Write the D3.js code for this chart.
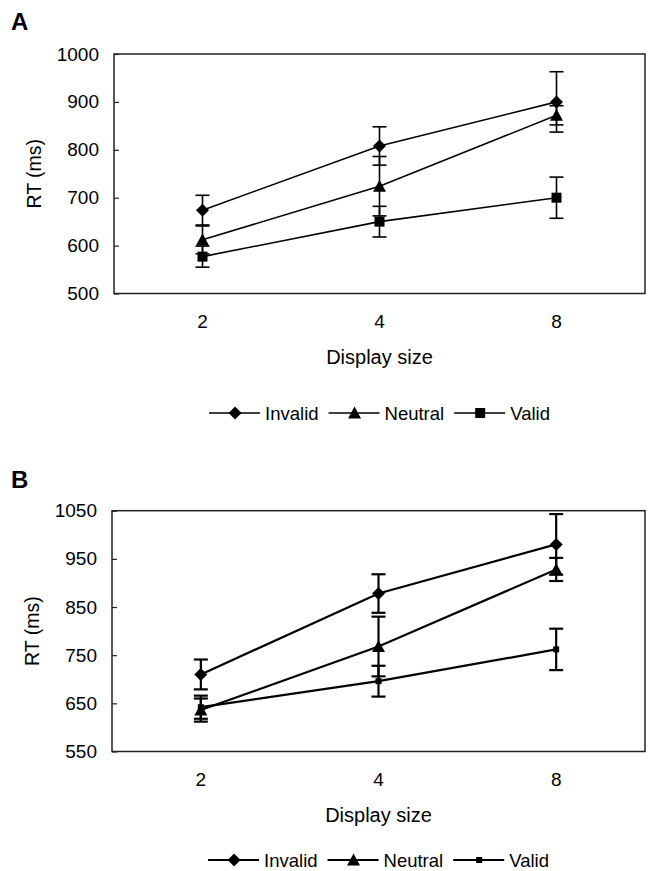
<!DOCTYPE html>
<html>
<head>
<meta charset="utf-8">
<script src="https://cdn.jsdelivr.net/npm/d3@7"></script>
<style>
  html, body { margin: 0; padding: 0; background: #fff; }
  svg { display: block; }
  text { font-family: "Liberation Sans", Arial, sans-serif; fill: #000; }
</style>
</head>
<body>
<svg id="chart" width="649" height="871"></svg>
<script>
// ---------------- data ----------------
const categories = ["2", "4", "8"];
const seriesNames = ["Invalid", "Neutral", "Valid"];

// Panel A
const invalidA = [674, 808, 900];
const invalidErrA = [31, 40, 63];
const neutralA = [612, 724, 872];
const neutralErrA = [29, 62, 20];
const validA = [577, 650, 700];
const validErrA = [22, 32, 43];
const yTicksA = [500, 600, 700, 800, 900, 1000];

// Panel B
const invalidB = [710, 878, 980];
const invalidErrB = [31, 40, 63];
const neutralB = [636, 768, 928];
const neutralErrB = [24, 62, 24];
const validB = [642, 696, 762];
const validErrB = [24, 32, 43];
const yTicksB = [550, 650, 750, 850, 950, 1050];

const xTitle = "Display size";
const yTitle = "RT (ms)";

// ---------------- drawing ----------------
const svg = d3.select("#chart");
const FONT = '"Liberation Sans", Arial, sans-serif';

function diamond(g, x, y, r) {
  g.append("path").attr("d", `M${x},${y - r}L${x + r},${y}L${x},${y + r}L${x - r},${y}Z`).attr("fill", "#000");
}
function triangle(g, x, y, r) {
  g.append("path").attr("d", `M${x},${y - r}L${x + r},${y + r * 0.85}L${x - r},${y + r * 0.85}Z`).attr("fill", "#000");
}
function square(g, x, y, r) {
  g.append("rect").attr("x", x - r).attr("y", y - r).attr("width", 2 * r).attr("height", 2 * r).attr("fill", "#000");
}

function panel(cfg) {
  const g = svg.append("g");
  const x = d3.scaleBand().domain(categories).range([cfg.left, cfg.right]);
  const cx = d => x(d) + x.bandwidth() / 2;
  const y = d3.scaleLinear().domain(cfg.yDomain).range([cfg.bottom, cfg.top]);

  // panel letter
  g.append("text").attr("x", 11).attr("y", cfg.letterY)
    .attr("font-size", 24).attr("font-weight", "bold").text(cfg.letter);

  // y axis
  const ya = g.append("g").attr("transform", `translate(${cfg.left},0)`)
    .call(d3.axisLeft(y).tickValues(cfg.yTicks).tickFormat(d3.format("d"))
      .tickSizeInner(-5).tickSizeOuter(0).tickPadding(15));
  ya.select(".domain").remove();
  ya.selectAll(".tick line").attr("stroke", "#222").attr("stroke-width", 1.2);
  ya.selectAll(".tick text").attr("font-size", 19).attr("font-family", FONT).attr("fill", "#000");

  // x axis labels
  const xa = g.append("g").attr("transform", `translate(0,${cfg.bottom})`)
    .call(d3.axisBottom(x).tickSize(0).tickPadding(21));
  xa.select(".domain").remove();
  xa.selectAll(".tick text").attr("font-size", 19).attr("font-family", FONT).attr("fill", "#000");

  // frame
  g.append("rect").attr("x", cfg.left).attr("y", cfg.top)
    .attr("width", cfg.right - cfg.left).attr("height", cfg.bottom - cfg.top)
    .attr("fill", "none").attr("stroke", "#222").attr("stroke-width", 1.5);

  // titles
  g.append("text").attr("x", (cfg.left + cfg.right) / 2).attr("y", cfg.bottom + 70)
    .attr("text-anchor", "middle").attr("font-size", 20).text(xTitle);
  g.append("text")
    .attr("transform", `translate(${cfg.yTitleX},${(cfg.top + cfg.bottom) / 2}) rotate(-90)`)
    .attr("text-anchor", "middle").attr("font-size", 19.5).text(yTitle);

  const series = [
    { name: seriesNames[0], vals: cfg.inv, errs: cfg.invErr, mark: diamond, r: 6.5 },
    { name: seriesNames[1], vals: cfg.neu, errs: cfg.neuErr, mark: triangle, r: 6.5 },
    { name: seriesNames[2], vals: cfg.val, errs: cfg.valErr, mark: square, r: cfg.sqR }
  ];

  const line = d3.line().x((d, i) => cx(categories[i])).y(d => y(d));
  series.forEach(s => {
    s.vals.forEach((v, i) => {
      const px = cx(categories[i]);
      const y1 = y(v + s.errs[i]), y2 = y(v - s.errs[i]);
      g.append("line").attr("x1", px).attr("x2", px).attr("y1", y1).attr("y2", y2)
        .attr("stroke", "#000").attr("stroke-width", cfg.sw);
      [y1, y2].forEach(yy => g.append("line").attr("x1", px - 7).attr("x2", px + 7)
        .attr("y1", yy).attr("y2", yy).attr("stroke", "#000").attr("stroke-width", cfg.sw));
    });
  });
  series.forEach(s => {
    g.append("path").attr("d", line(s.vals)).attr("fill", "none")
      .attr("stroke", "#000").attr("stroke-width", cfg.sw);
  });
  series.forEach(s => {
    s.vals.forEach((v, i) => s.mark(g, cx(categories[i]), y(v), s.r));
  });

  // legend
  const lg = g.append("g");
  let xpos = 0;
  series.forEach((s, i) => {
    const it = lg.append("g").attr("transform", `translate(${xpos},0)`);
    it.append("line").attr("x1", 0).attr("x2", 51).attr("y1", 0).attr("y2", 0)
      .attr("stroke", "#000").attr("stroke-width", cfg.sw);
    s.mark(it, 26, 0, s.r);
    const t = it.append("text").attr("x", 56).attr("y", 6.5).attr("font-size", 18.5).text(s.name);
    xpos += 56 + t.node().getComputedTextLength() + 10;
  });
  const totalW = xpos - 10;
  lg.attr("transform", `translate(${(cfg.left + cfg.right) / 2 - totalW / 2},${cfg.legendY})`);
}

panel({
  letter: "A", letterY: 30,
  left: 114, right: 645, top: 54, bottom: 293.5,
  yDomain: [500, 1000], yTicks: yTicksA, yTitleX: 41,
  inv: invalidA, invErr: invalidErrA, neu: neutralA, neuErr: neutralErrA,
  val: validA, valErr: validErrA, sqR: 5, sw: 1.6, legendY: 413
});

panel({
  letter: "B", letterY: 488,
  left: 112, right: 645, top: 510.7, bottom: 751.5,
  yDomain: [550, 1050], yTicks: yTicksB, yTitleX: 39,
  inv: invalidB, invErr: invalidErrB, neu: neutralB, neuErr: neutralErrB,
  val: validB, valErr: validErrB, sqR: 3, sw: 2.2, legendY: 860
});
</script>
</body>
</html>
